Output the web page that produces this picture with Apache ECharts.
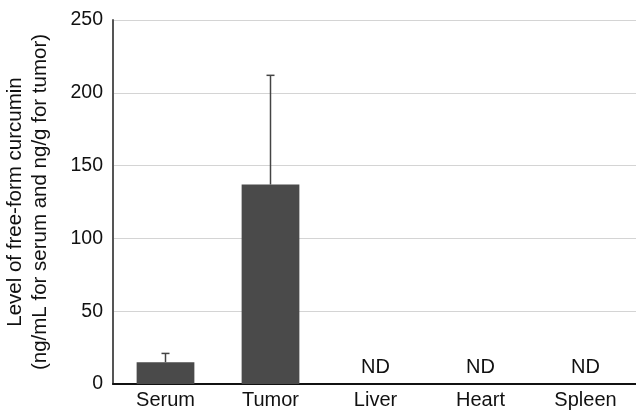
<!DOCTYPE html>
<html>
<head>
<meta charset="utf-8">
<script src="https://cdn.jsdelivr.net/npm/echarts@6/dist/echarts.min.js"></script>
<style>
html,body{margin:0;padding:0;background:#fff;}
#chart{width:636px;height:410px;}
</style>
</head>
<body>
<div id="chart"></div>
<script>
const categories = ['Serum', 'Tumor', 'Liver', 'Heart', 'Spleen'];
const meanValues = [15, 137, 0, 0, 0];
const errorValues = [6, 75, 0, 0, 0];
const ndLabels = ['', '', 'ND', 'ND', 'ND'];
const yTicks = [0, 50, 100, 150, 200, 250];

const FONT = '"Liberation Sans", Arial, Helvetica, sans-serif';
const chart = echarts.init(document.getElementById('chart'), null, {renderer: 'canvas'});

const errorData = categories.map((c, i) => [i, meanValues[i], meanValues[i] + errorValues[i]]);

chart.setOption({
  animation: false,
  backgroundColor: '#ffffff',
  grid: {left: 113, right: -2, top: 20, bottom: 26, containLabel: false, outerBoundsMode: 'none'},
  xAxis: {
    type: 'category',
    data: categories,
    axisLine: {show: true, lineStyle: {color: '#111', width: 2}},
    axisTick: {show: false},
    axisLabel: {color: '#111', fontSize: 20, fontFamily: FONT, margin: 6},
    splitLine: {show: false}
  },
  yAxis: {
    type: 'value',
    min: yTicks[0],
    max: yTicks[yTicks.length - 1],
    interval: 50,
    name: 'Level of free-form curcumin\n(ng/mL for serum and ng/g for tumor)',
    nameLocation: 'middle',
    nameRotate: 90,
    nameGap: 60,
    nameTextStyle: {color: '#111', fontSize: 20.5, fontFamily: FONT, lineHeight: 25},
    axisLine: {show: true, lineStyle: {color: '#555', width: 2}},
    axisTick: {show: false},
    axisLabel: {color: '#111', fontSize: 19.5, fontFamily: FONT, margin: 10},
    splitLine: {show: true, lineStyle: {color: '#d4d4d4', width: 1}}
  },
  series: [
    {
      type: 'bar',
      data: meanValues,
      barWidth: '55%',
      itemStyle: {color: '#4a4a4a'},
      label: {
        show: true,
        position: 'top',
        distance: 7,
        color: '#111',
        fontSize: 20,
        fontFamily: FONT,
        formatter: p => ndLabels[p.dataIndex]
      },
      z: 2
    },
    {
      type: 'custom',
      data: errorData,
      z: 3,
      renderItem: function (params, api) {
        const i = api.value(0);
        const lo = api.coord([i, api.value(1)]);
        const hi = api.coord([i, api.value(2)]);
        if (api.value(2) === api.value(1)) return {type: 'group', children: []};
        const cap = 4;
        const st = {stroke: '#444', lineWidth: 1.5};
        return {
          type: 'group',
          children: [
            {type: 'line', shape: {x1: lo[0], y1: lo[1], x2: hi[0], y2: hi[1]}, style: st},
            {type: 'line', shape: {x1: hi[0] - cap, y1: hi[1], x2: hi[0] + cap, y2: hi[1]}, style: st}
          ]
        };
      }
    }
  ]
});
</script>
</body>
</html>
